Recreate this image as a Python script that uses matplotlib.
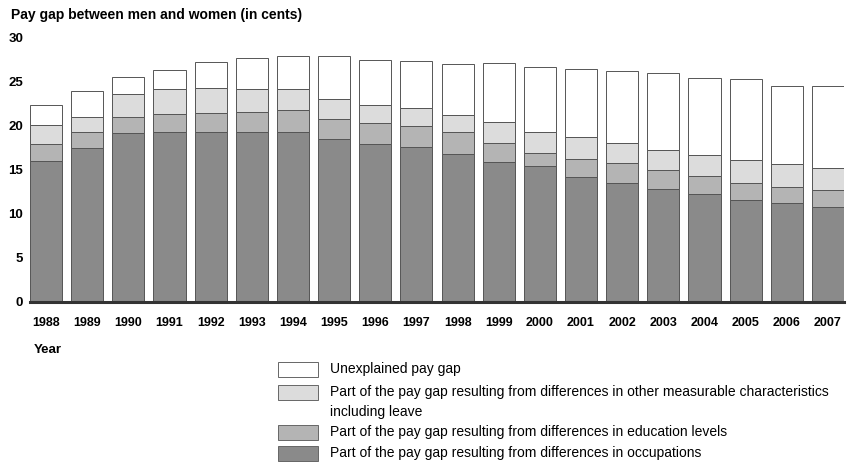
import numpy as np
import matplotlib.pyplot as plt
from matplotlib.patches import Rectangle

years = [str(y) for y in range(1988, 2008)]

# cumulative tops (cents)
occupations_top = [16.0, 17.4, 19.1, 19.3, 19.3, 19.2, 19.2, 18.4, 17.9, 17.5,
                   16.8, 15.8, 15.4, 14.1, 13.5, 12.8, 12.2, 11.5, 11.2, 10.7]
education_top = [17.9, 19.3, 21.0, 21.3, 21.4, 21.5, 21.7, 20.7, 20.3, 19.9,
                 19.2, 18.0, 16.9, 16.2, 15.7, 15.0, 14.3, 13.5, 13.0, 12.7]
other_top = [20.0, 21.0, 23.6, 24.1, 24.2, 24.1, 24.1, 23.0, 22.3, 22.0,
             21.2, 20.4, 19.3, 18.7, 18.0, 17.2, 16.6, 16.1, 15.6, 15.2]
total = [22.3, 23.9, 25.5, 26.3, 27.2, 27.6, 27.8, 27.8, 27.4, 27.3,
         26.9, 27.0, 26.6, 26.4, 26.1, 25.9, 25.4, 25.2, 24.5, 24.5]

legend_labels = [
    "Unexplained pay gap",
    "Part of the pay gap resulting from differences in other measurable characteristics\nincluding leave",
    "Part of the pay gap resulting from differences in education levels",
    "Part of the pay gap resulting from differences in occupations",
]
colors = ["white", "#dcdcdc", "#b4b4b4", "#8a8a8a"]

occ = np.array(occupations_top)
edu = np.array(education_top) - occ
oth = np.array(other_top) - np.array(education_top)
une = np.array(total) - np.array(other_top)

sans = ["Liberation Sans", "DejaVu Sans"]

W, H = 852, 471
fig = plt.figure(figsize=(W / 100, H / 100), dpi=100)
ax = fig.add_axes([30 / W, 1 - 302 / H, 814 / W, 265 / H])

x = np.arange(len(years))
bw = 0.78
kw = dict(width=bw, edgecolor="#555555", linewidth=0.7)
ax.bar(x, occ, color=colors[3], **kw)
ax.bar(x, edu, bottom=occ, color=colors[2], **kw)
ax.bar(x, oth, bottom=np.array(education_top), color=colors[1], **kw)
ax.bar(x, une, bottom=np.array(other_top), color=colors[0], **kw)

ax.set_xlim(-bw / 2, len(years) - 1 + bw / 2)
ax.set_ylim(0, 30)
ax.axhline(0, color="#333333", linewidth=2.2, clip_on=False)
for s in ax.spines.values():
    s.set_visible(False)

ax.set_yticks([0, 5, 10, 15, 20, 25, 30])
ax.set_yticklabels(["0", "5", "10", "15", "20", "25", "30"],
                   fontfamily=sans, fontweight="bold", fontsize=9.5)
ax.tick_params(axis="y", length=0, pad=5)
ax.set_xticks(x)
ax.set_xticklabels(years, fontfamily=sans, fontweight="bold", fontsize=9)
ax.tick_params(axis="x", length=0, pad=11)

fig.text(11 / W, 1 - 15 / H, "Pay gap between men and women (in cents)",
         fontfamily=sans, fontweight="bold", fontsize=10, va="center", ha="left")
fig.text(34 / W, 1 - 350 / H, "Year", fontfamily=sans, fontweight="bold",
         fontsize=9.5, va="center", ha="left")

# legend drawn by hand
rows = [369, 392, 432, 453]
for lab, col, yc in zip(legend_labels, colors, rows):
    fig.add_artist(Rectangle((278 / W, 1 - (yc + 7.5) / H), 40 / W, 15 / H,
                             transform=fig.transFigure, facecolor=col,
                             edgecolor="#666666", linewidth=0.7))
    for i, line in enumerate(lab.split("\n")):
        fig.text(330 / W, 1 - (yc + 20 * i) / H, line, fontfamily=sans,
                 fontsize=10, va="center", ha="left")

fig.savefig("out.png", dpi=100)
